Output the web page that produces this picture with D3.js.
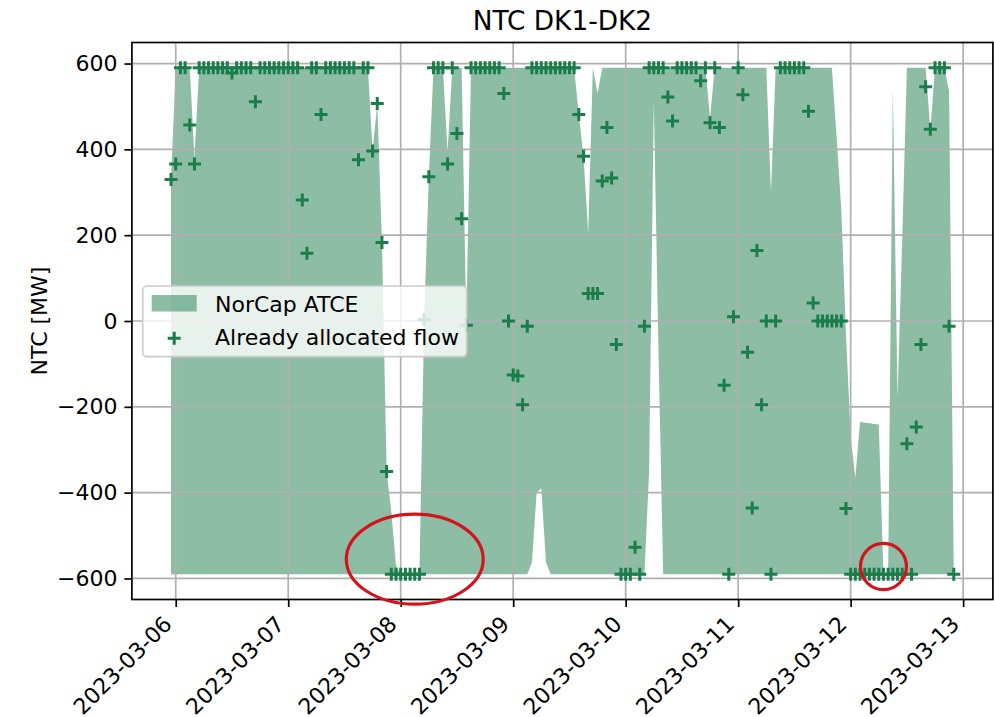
<!DOCTYPE html>
<html><head><meta charset="utf-8">
<script src="https://cdn.jsdelivr.net/npm/d3@7"></script>
<style>
body{margin:0;background:#fff}
svg{display:block;font-family:"DejaVu Sans",sans-serif}
</style>
</head><body>
<svg id="chart" width="994" height="717"></svg>
<script>
// ---------- DATA ----------
const startTime = "2023-03-05T23:00:00Z";   // first hourly timestamp
const titleText = "NTC DK1-DK2";
const yLabel = "NTC [MW]";
const seriesNames = ["NorCap ATCE", "Already allocated flow"];
const dayTicks = ["2023-03-06","2023-03-07","2023-03-08","2023-03-09","2023-03-10","2023-03-11","2023-03-12","2023-03-13"];
const yTicks = [-600,-400,-200,0,200,400,600];
// highlighted spots (red annotation rings): centre time, centre value, half-width in hours, half-height in MW
const highlightTimes = ["2023-03-08T03:00:00Z", "2023-03-12T07:00:00Z"];
const highlightValues = [-555, -572];
const highlightHalfHours = [14.6, 4.9];
const highlightHalfMW = [105, 54];

// NorCap ATCE upper bound (hourly)
const atceUpper = [
 332,590,590,590,590,380,590,590,590,590,590,590,590,590,590,590,590,590,590,590,590,590,590,590,
 590,590,590,590,590,590,590,590,590,590,590,590,590,590,590,590,590,590,590,396,507,183,-351,-445,
 -570,-590,-590,-590,-590,-590,3,336,590,590,590,395,590,590,590,-10,590,590,590,590,590,590,590,590,
 590,590,590,590,590,590,590,590,590,590,590,590,590,590,590,481,384,205,590,530,590,590,590,590,
 590,590,590,590,590,590,590,590,590,590,590,590,590,590,590,590,590,590,590,473,590,590,590,590,
 590,590,590,590,590,590,590,590,300,590,590,590,590,590,590,590,590,590,590,590,590,590,430,260,
 -30,-270,-365,-235,-237,-238,-240,-241,-590,-590,543,-178,190,590,590,590,590,590,445,590,590,590,535,-590
];
// NorCap ATCE lower bound (hourly)
const atceLower = [
 -590,-590,-590,-590,-590,-590,-590,-590,-590,-590,-590,-590,-590,-590,-590,-590,-590,-590,-590,-590,-590,-590,-590,-590,
 -590,-590,-590,-590,-590,-590,-590,-590,-590,-590,-590,-590,-590,-590,-590,-590,-590,-590,-590,-590,-590,-590,-590,-590,
 -590,-590,-590,-590,-590,-590,-590,-590,-590,-590,-590,-590,-590,-590,-590,-590,-590,-590,-590,-590,-590,-590,-590,-590,
 -590,-590,-590,-590,-590,-563,-400,-390,-563,-590,-590,-590,-590,-590,-590,-590,-590,-590,-590,-590,-590,-590,-590,-590,
 -590,-590,-590,-590,-590,-590,-350,510,-70,-590,-590,-590,-590,-590,-590,-590,-590,-590,-590,-590,-590,-590,-590,-590,
 -590,-590,-590,-590,-590,-590,-590,-590,-590,-590,-590,-590,-590,-590,-590,-590,-590,-590,-590,-590,-590,-590,-590,-590,
 -590,-590,-590,-590,-590,-590,-590,-590,-590,-590,-590,-590,-590,-590,-590,-590,-590,-590,-590,-590,-590,-590,-590,-590
];
// Already allocated flow (hourly)
const allocatedFlow = [
 330,366,590,590,457,366,590,590,590,590,590,590,590,578,590,590,590,590,511,590,590,590,590,590,
 590,590,590,590,282,158,590,590,481,590,590,590,590,590,590,590,376,590,590,396,507,183,-351,-590,
 -590,-590,-590,-590,-590,-590,3,336,590,590,590,366,590,437,238,-10,590,590,590,590,590,590,590,530,
 0,-126,-128,-195,-12,590,590,590,590,590,590,590,590,590,590,481,384,64,64,64,326,451,333,-55,
 -590,-590,-590,-527,-590,-12,590,590,590,590,522,466,590,590,590,590,590,560,590,462,590,451,-150,-590,
 10,590,527,-73,-436,164,-195,0,-590,0,590,590,590,590,590,590,489,42,0,0,0,0,0,0,
 -437,-590,-590,-590,-590,-590,-590,-590,-590,-590,-590,-590,-590,-286,-590,-247,-55,546,447,590,590,590,-12,-590
];

// ---------- LAYOUT ----------
const plot = {left: 131.9, right: 992.9, top: 42.5, bottom: 599.5};
const fs = 22;
const green = "#1b7d4b";

const t0 = new Date(startTime);
const times = atceUpper.map((_, i) => d3.utcHour.offset(t0, i));
const padMs = 0.05 * (times[times.length-1] - times[0]);

const x = d3.scaleUtc()
  .domain([new Date(+times[0] - padMs), new Date(+times[times.length-1] + padMs)])
  .range([plot.left, plot.right]);
const yPad = 0.05 * (d3.max(atceUpper) - d3.min(atceLower));
const y = d3.scaleLinear()
  .domain([d3.min(atceLower) - yPad, d3.max(atceUpper) + yPad])
  .range([plot.bottom, plot.top]);

const svg = d3.select("#chart");

// fill area
const rows = times.map((t, i) => ({t, lo: atceLower[i], hi: atceUpper[i], f: allocatedFlow[i]}));
svg.append("path")
  .datum(rows)
  .attr("d", d3.area().x(d => x(d.t)).y0(d => y(d.lo)).y1(d => y(d.hi)))
  .attr("fill", green).attr("fill-opacity", 0.5).attr("stroke", "none");

// grid
const dayDates = dayTicks.map(s => new Date(s + "T00:00:00Z"));
const grid = svg.append("g").attr("stroke", "#b0b0b0").attr("stroke-width", 1.7);
grid.selectAll("line.v").data(dayDates).join("line")
  .attr("x1", d => x(d)).attr("x2", d => x(d)).attr("y1", plot.top).attr("y2", plot.bottom);
grid.selectAll("line.h").data(yTicks).join("line")
  .attr("x1", plot.left).attr("x2", plot.right).attr("y1", d => y(d)).attr("y2", d => y(d));

// markers
const plusPath = "M-6.5,0H6.5M0,-6.5V6.5";
svg.append("g").selectAll("path").data(rows).join("path")
  .attr("transform", d => `translate(${x(d.t)},${y(d.f)})`)
  .attr("d", plusPath).attr("stroke", green).attr("stroke-width", 3).attr("fill", "none");

// spines
svg.append("rect").attr("x", plot.left).attr("y", plot.top)
  .attr("width", plot.right - plot.left).attr("height", plot.bottom - plot.top)
  .attr("fill", "none").attr("stroke", "#000").attr("stroke-width", 1.7);

// axes
const fmtMinus = v => (v < 0 ? "\u2212" + Math.abs(v) : String(v));
const yAxis = svg.append("g").attr("transform", `translate(${plot.left},0)`)
  .call(d3.axisLeft(y).tickValues(yTicks).tickFormat(fmtMinus).tickSize(7.5).tickPadding(7));
yAxis.select(".domain").remove();
yAxis.selectAll("line").attr("stroke", "#000").attr("stroke-width", 1.7);
yAxis.selectAll("text").attr("font-size", fs).attr("font-family", "DejaVu Sans").attr("fill", "#000");

const xAxis = svg.append("g").attr("transform", `translate(0,${plot.bottom})`)
  .call(d3.axisBottom(x).tickValues(dayDates).tickFormat(d3.utcFormat("%Y-%m-%d")).tickSize(7.5));
xAxis.select(".domain").remove();
xAxis.selectAll("line").attr("stroke", "#000").attr("stroke-width", 1.7);
xAxis.selectAll("text")
  .attr("font-size", fs).attr("font-family", "DejaVu Sans").attr("fill", "#000")
  .attr("text-anchor", "end").attr("dy", null).attr("y", null)
  .attr("transform", "translate(-3,26) rotate(-45)");

// title & y label
svg.append("text").attr("x", (plot.left + plot.right) / 2).attr("y", 30)
  .attr("text-anchor", "middle").attr("font-size", 26.4).text(titleText);
svg.append("text").attr("transform", "translate(47,321) rotate(-90)")
  .attr("text-anchor", "middle").attr("font-size", fs).text(yLabel);

// legend
const lg = svg.append("g");
lg.append("rect").attr("x", 142.7).attr("y", 286).attr("width", 324).attr("height", 70.7)
  .attr("rx", 4.4).attr("fill", "#fff").attr("fill-opacity", 0.8)
  .attr("stroke", "#cccccc").attr("stroke-width", 1.7);
lg.append("rect").attr("x", 151.7).attr("y", 295).attr("width", 45).attr("height", 16.5)
  .attr("fill", green).attr("fill-opacity", 0.5);
lg.append("text").attr("x", 215).attr("y", 311.5).attr("font-size", fs).text(seriesNames[0]);
lg.append("path").attr("transform", "translate(174.2,338.3)").attr("d", plusPath)
  .attr("stroke", green).attr("stroke-width", 3).attr("fill", "none");
lg.append("text").attr("x", 215).attr("y", 345).attr("font-size", fs).text(seriesNames[1]);

// red annotation rings
const hourPx = x(d3.utcHour.offset(t0, 1)) - x(t0);
svg.append("g").selectAll("ellipse").data(highlightTimes).join("ellipse")
  .attr("cx", (d, i) => x(new Date(d)))
  .attr("cy", (d, i) => y(highlightValues[i]))
  .attr("rx", (d, i) => highlightHalfHours[i] * hourPx)
  .attr("ry", (d, i) => Math.abs(y(0) - y(highlightHalfMW[i])))
  .attr("fill", "none").attr("stroke", "#d4141c").attr("stroke-width", 3.2);
</script>
</body></html>
